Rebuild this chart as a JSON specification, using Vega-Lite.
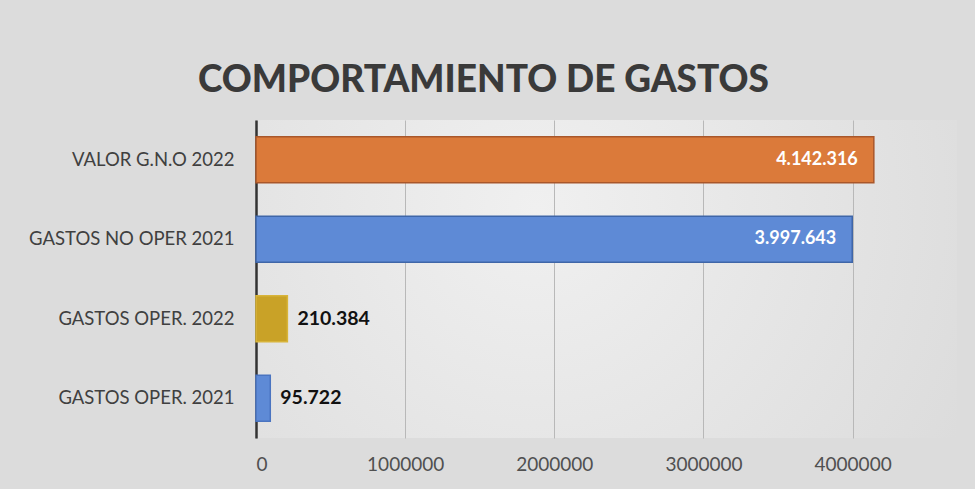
{
  "$schema": "https://vega.github.io/schema/vega-lite/v6.json",
  "autosize": {"type": "none"},
  "width": 701,
  "height": 318,
  "padding": {"left": 256, "top": 120, "right": 18, "bottom": 51},
  "background": "#dcdcdc",
  "config": {
    "locale": {"number": {"decimal": ",", "thousands": ".", "grouping": [3], "currency": ["$", ""]}},
    "view": {
      "stroke": null,
      "fill": {
        "gradient": "radial",
        "x1": 0.4, "y1": 0.4, "x2": 0.4, "y2": 0.4, "r1": 0, "r2": 0.75,
        "stops": [{"offset": 0, "color": "#f0f0f0"}, {"offset": 1, "color": "#dadada"}]
      }
    },
    "font": "Lato"
  },
  "title": {
    "text": "COMPORTAMIENTO DE GASTOS",
    "anchor": "middle",
    "frame": "group",
    "dx": -123,
    "offset": 20,
    "font": "Lato",
    "fontSize": 37,
    "fontWeight": 900,
    "color": "#3a3a3a"
  },
  "data": {
    "values": [
      {"categoria": "VALOR G.N.O 2022", "valor": 4142316},
      {"categoria": "GASTOS NO OPER 2021", "valor": 3997643},
      {"categoria": "GASTOS OPER. 2022", "valor": 210384},
      {"categoria": "GASTOS OPER. 2021", "valor": 95722}
    ]
  },
  "encoding": {
    "y": {
      "field": "categoria",
      "type": "nominal",
      "sort": null,
      "scale": {"paddingInner": 0.42, "paddingOuter": 0.21},
      "axis": {
        "title": null,
        "ticks": false,
        "labelPadding": 22,
        "labelFontSize": 18.5,
        "labelLimit": 300,
        "labelColor": "#404040",
        "labelFont": "Lato",
        "domainColor": "#333333",
        "domainWidth": 2.5
      }
    },
    "x": {
      "field": "valor",
      "type": "quantitative",
      "scale": {"domain": [0, 4700000], "nice": false},
      "axis": {
        "title": null,
        "values": [0, 1000000, 2000000, 3000000, 4000000],
        "format": "d",
        "domain": false,
        "ticks": false,
        "grid": true,
        "gridColor": "#b8b8b8",
        "gridWidth": 1,
        "labelPadding": 17,
        "labelFontSize": 19,
        "labelColor": "#505050",
        "labelFont": "Lato"
      }
    }
  },
  "layer": [
    {
      "mark": {"type": "bar", "strokeWidth": 1.5},
      "encoding": {
        "color": {
          "field": "categoria",
          "type": "nominal",
          "legend": null,
          "scale": {
            "domain": ["VALOR G.N.O 2022", "GASTOS NO OPER 2021", "GASTOS OPER. 2022", "GASTOS OPER. 2021"],
            "range": ["#db7a3a", "#5e8ad6", "#c9a227", "#5e8ad6"]
          }
        },
        "stroke": {
          "field": "categoria",
          "type": "nominal",
          "legend": null,
          "scale": {
            "domain": ["VALOR G.N.O 2022", "GASTOS NO OPER 2021", "GASTOS OPER. 2022", "GASTOS OPER. 2021"],
            "range": ["#a9572a", "#3f66a8", "#d8b43a", "#4a74c0"]
          }
        }
      }
    },
    {
      "transform": [{"filter": "datum.valor > 1000000"}],
      "mark": {"type": "text", "align": "right", "dx": -16, "fontSize": 18, "fontWeight": "bold", "color": "#ffffff", "font": "Lato"},
      "encoding": {"text": {"field": "valor", "type": "quantitative", "format": ",d"}}
    },
    {
      "transform": [{"filter": "datum.valor <= 1000000"}],
      "mark": {"type": "text", "align": "left", "dx": 10, "fontSize": 19.5, "fontWeight": "bold", "color": "#111111", "font": "Lato"},
      "encoding": {"text": {"field": "valor", "type": "quantitative", "format": ",d"}}
    }
  ]
}
